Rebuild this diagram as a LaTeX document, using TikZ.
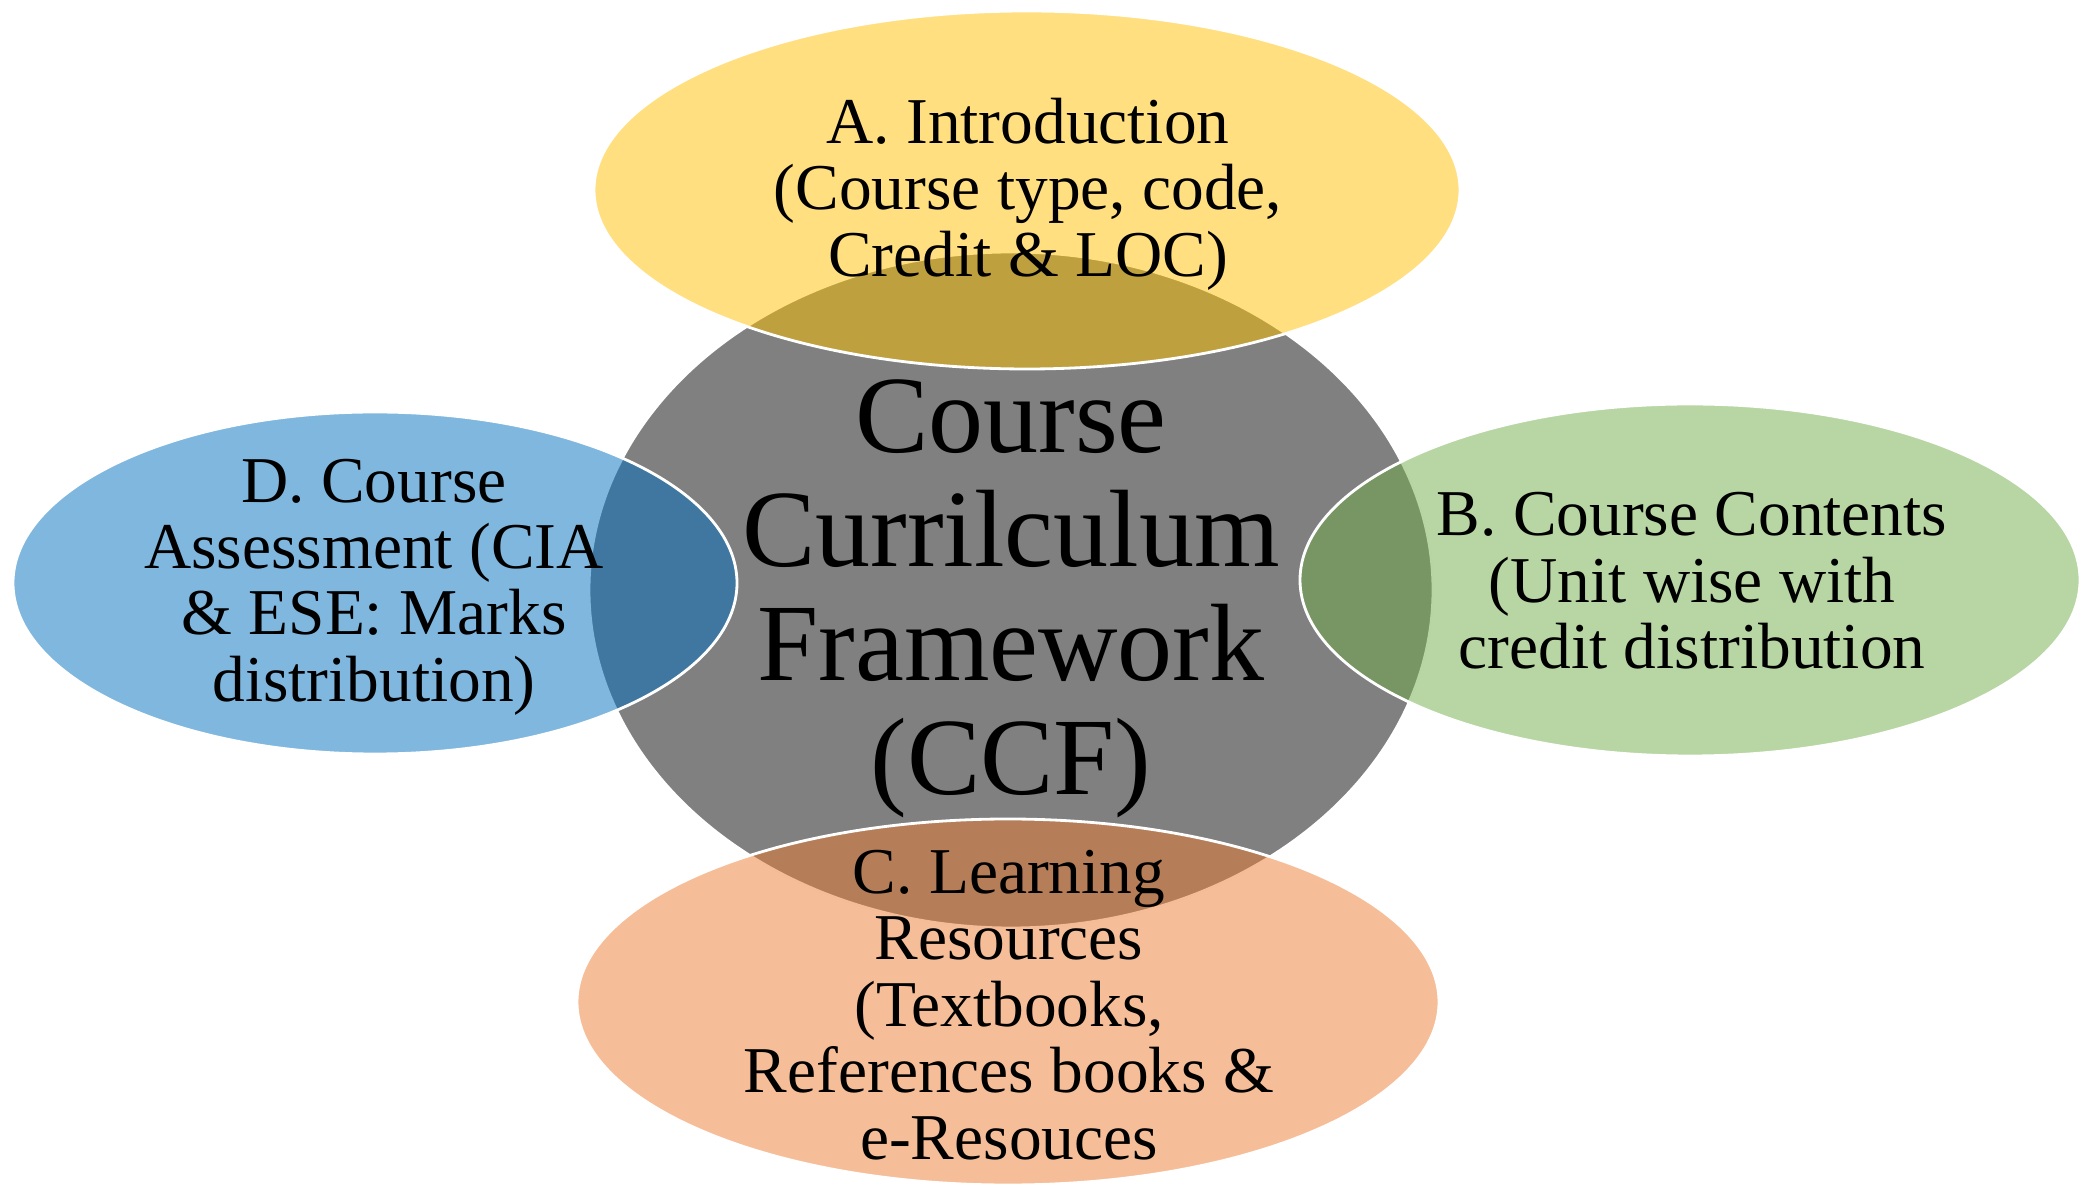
\documentclass[tikz,border=0pt]{standalone}
\usepackage{fontspec}
\setmainfont{Liberation Serif}
\usetikzlibrary{shapes.geometric}
\definecolor{corecol}{HTML}{808080}
\definecolor{introcol}{HTML}{FFC000}
\definecolor{contentcol}{HTML}{70AD47}
\definecolor{resourcecol}{HTML}{ED7D31}
\definecolor{assesscol}{HTML}{0070C0}
\begin{document}
\begin{tikzpicture}[
    petal/.style={shape=ellipse,draw=white,line width=0.8pt,fill opacity=0.5,inner sep=0pt},
    petaltext/.style={align=center,font=\fontsize{18.6}{18.9}\selectfont},
  ]
    \useasboundingbox (0,0) rectangle (20.81,11.89);
    % centre
    \node[shape=ellipse,fill=corecol,draw=white,line width=0.8pt,inner sep=0pt,
          minimum width=8.44cm,minimum height=6.76cm] (core) at (10.11,5.99) {};
    % four petals
    \node[petal,fill=introcol,minimum width=8.66cm,minimum height=3.58cm] (intro) at (10.27,9.99) {};
    \node[petal,fill=contentcol,minimum width=7.80cm,minimum height=3.52cm] (content) at (16.90,6.09) {};
    \node[petal,fill=resourcecol,minimum width=8.62cm,minimum height=3.66cm] (resource) at (10.08,1.87) {};
    \node[petal,fill=assesscol,minimum width=7.24cm,minimum height=3.42cm] (assess) at (3.75,6.06) {};
    % texts
    \node[align=center,font=\fontsize{31.3}{32.4}\selectfont] (core-txt) at (10.11,5.90)
        {Course\\Currilculum\\Framework\\(CCF)};
    \node[petaltext] (intro-txt) at (10.28,9.95) {A. Introduction\\(Course type, code,\\Credit \& LOC)};
    \node[petaltext] (content-txt) at (16.92,6.08) {B. Course Contents\\(Unit wise with\\credit distribution};
    \node[petaltext] (resource-txt) at (10.09,1.84) {C. Learning\\Resources\\(Textbooks,\\References books \&\\e-Resouces};
    \node[petaltext] (assess-txt) at (3.74,6.02) {D. Course\\Assessment (CIA\\\& ESE: Marks\\distribution)};
\end{tikzpicture}
\end{document}
